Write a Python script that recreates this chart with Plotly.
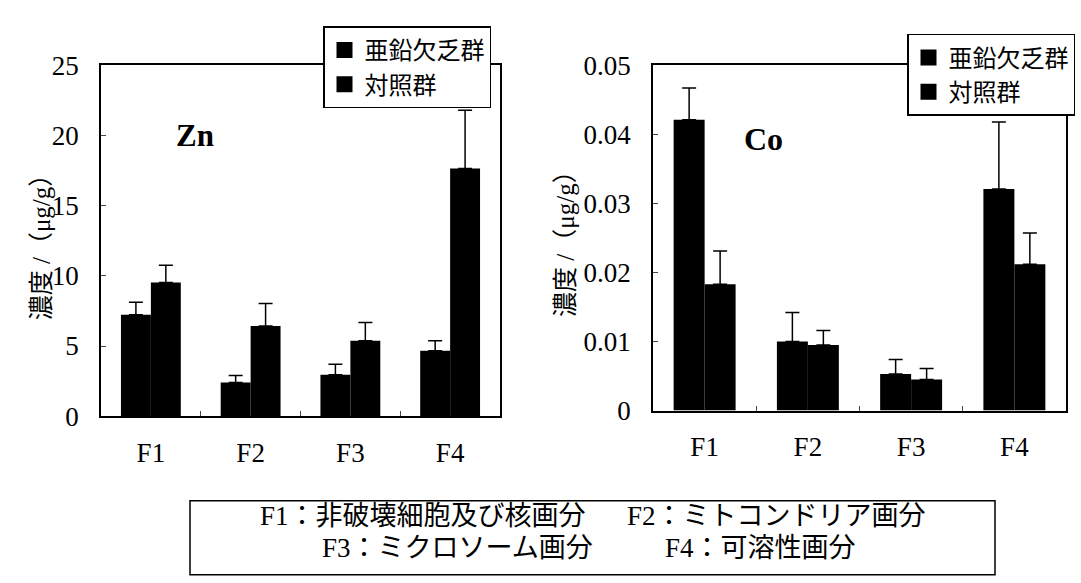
import plotly.graph_objects as go

W, H = 1081, 583

categories = ["F1", "F2", "F3", "F4"]
series_names = ["亜鉛欠乏群", "対照群"]

zn_deficient = [7.22, 2.40, 2.96, 4.66]
zn_deficient_err = [0.90, 0.51, 0.74, 0.72]
zn_control = [9.53, 6.43, 5.38, 17.65]
zn_control_err = [1.23, 1.60, 1.30, 4.15]

co_deficient = [0.0421, 0.0100, 0.0053, 0.0321]
co_deficient_err = [0.0046, 0.0042, 0.0021, 0.0097]
co_control = [0.0183, 0.0095, 0.0045, 0.0212]
co_control_err = [0.0048, 0.0021, 0.0016, 0.0045]

y_title = "濃度 /（μg/g）"
notes = [
    ("F1：非破壊細胞及び核画分", 258, 528),
    ("F2：ミトコンドリア画分", 625, 528),
    ("F3：ミクロソーム画分", 320, 562),
    ("F4：可溶性画分", 663, 562),
]

SERIF = "Liberation Serif, Noto Sans CJK JP, serif"
CJK = "Liberation Serif, Noto Sans CJK JP, sans-serif"


def px(x):
    return x / W


def py(y):
    return 1 - y / H


fig = go.Figure()


def add_bars(values, errs, name, xa, ya):
    fig.add_trace(go.Bar(
        x=categories, y=values, name=name, showlegend=False,
        marker=dict(color="black", line=dict(color="black", width=0)),
        error_y=dict(type="data", array=errs, arrayminus=[0] * len(errs),
                     symmetric=False, color="black", thickness=1.5, width=7),
        xaxis=xa, yaxis=ya,
    ))


def add_legend_entry(name, xa, ya, legend):
    fig.add_trace(go.Scatter(
        x=[None], y=[None], mode="markers", name=name,
        marker=dict(symbol="square", size=16, color="black"),
        xaxis=xa, yaxis=ya, legend=legend, hoverinfo="skip",
    ))


add_bars(zn_deficient, zn_deficient_err, series_names[0], "x", "y")
add_bars(zn_control, zn_control_err, series_names[1], "x", "y")
add_bars(co_deficient, co_deficient_err, series_names[0], "x2", "y2")
add_bars(co_control, co_control_err, series_names[1], "x2", "y2")
add_legend_entry(series_names[0], "x", "y", "legend")
add_legend_entry(series_names[1], "x", "y", "legend")
add_legend_entry(series_names[0], "x2", "y2", "legend2")
add_legend_entry(series_names[1], "x2", "y2", "legend2")

axis_common = dict(
    showline=True, linecolor="black", linewidth=1.8, mirror=True,
    showgrid=False, zeroline=False,
    tickfont=dict(family=SERIF, size=27, color="black"),
)

legend_common = dict(
    xanchor="left", yanchor="top", bgcolor="white", bordercolor="black",
    borderwidth=1.5, font=dict(family=CJK, size=24, color="black"),
    tracegroupgap=0, itemsizing="trace",
)

fig.update_layout(
    width=W, height=H,
    margin=dict(l=0, r=0, t=0, b=0),
    paper_bgcolor="white", plot_bgcolor="white",
    barmode="group", bargap=0.4, bargroupgap=0,
    xaxis=dict(domain=[px(101), px(500)], anchor="y", type="category",
               categoryorder="array", categoryarray=categories,
               ticks="inside", tickson="boundaries", ticklen=5,
               ticklabelstandoff=11, **axis_common),
    yaxis=dict(domain=[py(423), py(53)], anchor="x", range=[0, 25], dtick=5,
               ticks="inside", ticklen=5, ticklabelstandoff=15, **axis_common),
    xaxis2=dict(domain=[px(653), px(1066)], anchor="y2", type="category",
                categoryorder="array", categoryarray=categories,
                ticks="inside", tickson="boundaries", ticklen=5,
                ticklabelstandoff=11, **axis_common),
    yaxis2=dict(domain=[py(417), py(53)], anchor="x2", range=[0, 0.05], dtick=0.01,
                ticks="inside", ticklen=5, ticklabelstandoff=15, **axis_common),
    legend=dict(x=px(323), y=py(12), **legend_common),
    legend2=dict(x=px(907), y=py(20), **legend_common),
    showlegend=True,
)

annotations = [
    dict(text="<b>Zn</b>", x=px(174), y=py(107), xref="paper", yref="paper",
         showarrow=False, font=dict(family=SERIF, size=31, color="black")),
    dict(text="<b>Co</b>", x=px(785), y=py(110), xref="paper", yref="paper",
         showarrow=False, font=dict(family=SERIF, size=32, color="black")),
    dict(text=y_title, x=px(26), y=py(238), xref="paper", yref="paper",
         textangle=-90, showarrow=False,
         font=dict(family=CJK, size=25, color="black")),
    dict(text=y_title, x=px(566), y=py(235), xref="paper", yref="paper",
         textangle=-90, showarrow=False,
         font=dict(family=CJK, size=25, color="black")),
]
for txt, x, y in notes:
    annotations.append(dict(text=txt, x=px(x), y=py(y), xref="paper", yref="paper",
                            xanchor="left", yanchor="middle", showarrow=False,
                            font=dict(family=CJK, size=27, color="black")))
fig.update_layout(annotations=annotations)

fig.add_shape(type="rect", xref="paper", yref="paper",
              x0=px(190), x1=px(995), y0=py(590), y1=py(512),
              line=dict(color="black", width=1.5), fillcolor="rgba(0,0,0,0)")

fig.write_html("out.html")
